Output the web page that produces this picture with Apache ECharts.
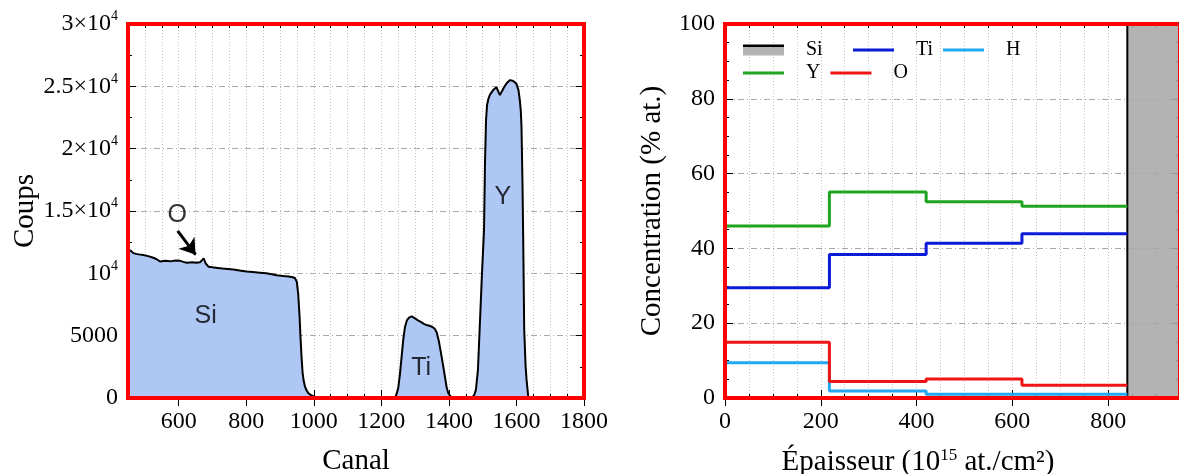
<!DOCTYPE html>
<html>
<head>
<meta charset="utf-8">
<script src="https://cdn.jsdelivr.net/npm/echarts@6/dist/echarts.min.js"></script>
<style>
  html, body { margin: 0; padding: 0; background: #fff; }
  #chart { width: 1179px; height: 474px; }
</style>
</head>
<body>
<div id="chart"></div>
<script>
  // spectre RBS (gauche)
  const canalRange = [450, 1800];
  const coupsMax = 30000;
  const canal = [
    450, 458, 466, 474, 482, 495, 510, 525, 535, 545,
    560, 575, 590, 604, 614, 624, 640, 652, 663, 668,
    674, 680, 688, 700, 715, 730, 745, 762, 780, 801,
    820, 840, 860, 875, 890, 910, 925, 935, 944, 950,
    954, 958, 961, 964, 967, 970, 974, 979, 984, 992,
    999, 1013, 1240, 1245, 1250, 1255, 1260, 1265, 1270, 1276,
    1282, 1290, 1296, 1302, 1310, 1318, 1326, 1334, 1342, 1350,
    1358, 1364, 1370, 1376, 1382, 1388, 1393, 1398, 1405, 1415,
    1468, 1475, 1480, 1486, 1491, 1498, 1504, 1507, 1510, 1513,
    1517, 1521, 1526, 1531, 1536, 1541, 1546, 1551, 1555, 1559,
    1565, 1571, 1576, 1581, 1588, 1594, 1600, 1606, 1610, 1613,
    1615, 1618, 1620, 1623, 1627, 1630, 1635, 1642, 1800
  ];
  const coups = [
    11900, 11820, 11620, 11560, 11520, 11470, 11380, 11250, 11130, 10950,
    11000, 10960, 11030, 11000, 10920, 10850, 10890, 10840, 10880, 10960,
    11200, 10800, 10530, 10480, 10430, 10380, 10350, 10310, 10220, 10140,
    10100, 10050, 10000, 9930, 9850, 9790, 9750, 9700, 9620, 9300,
    8300, 6500, 4700, 3200, 2000, 1400, 900, 600, 380, 230,
    150, 0, 0, 300, 800, 1900, 3300, 4700, 5700, 6250,
    6450, 6550, 6450, 6350, 6200, 6080, 5950, 5850, 5800, 5720,
    5550, 5250, 4600, 3700, 2750, 1750, 900, 400, 120, 0,
    0, 250, 650, 2250, 5500, 10000, 13500, 19000, 22300, 23500,
    24000, 24300, 24500, 24700, 24800, 24920, 24600, 24300, 24450, 24700,
    25000, 25250, 25400, 25500, 25450, 25350, 25200, 24700, 23900, 23000,
    21700, 17000, 12800, 5500, 2600, 1450, 100, 0, 0
  ];
  // étiquettes des pics (canal, coups)
  const peakNames = ['O', 'Si', 'Ti', 'Y'];
  const peakPos = [[596, 14680], [680, 6550], [1318, 2400], [1560, 16100]];
  const arrowFrom = [597, 13400];
  const arrowTo = [650, 11500];

  // profil de concentration (droite)
  const depthRange = [0, 950];
  const depthEdges = [0, 218, 420, 620, 840];
  const concY = [46.0, 55.1, 52.5, 51.3];
  const concTi = [29.5, 38.4, 41.4, 43.9];
  const concO = [14.9, 4.4, 5.1, 3.4];
  const concH = [9.4, 1.9, 1.0, 1.0];
  const substrate = [840, 950];

  const serif = 'Liberation Serif, Times New Roman, serif';
  const sans = 'Liberation Sans, Arial, sans-serif';

  const grids = [
    {left: 128, top: 24, width: 456, height: 374},
    {left: 725, top: 24, width: 455, height: 374}
  ];

  function stepData(vals) {
    const d = vals.map((v, i) => [depthEdges[i], v]);
    d.push([depthEdges[depthEdges.length - 1], vals[vals.length - 1]]);
    return d;
  }

  function xAxes(grid, range, majors, label, name, nameStyle) {
    const tick = {show: true, inside: true, length: 4, lineStyle: {color: '#000', width: 1}};
    const major = {show: true, inside: true, length: 8, customValues: majors, lineStyle: {color: '#000', width: 1}};
    const base = {type: 'value', gridIndex: grid, min: range[0], max: range[1], interval: 50,
      axisLine: {show: true, onZero: false, lineStyle: {color: '#000', width: 2}},
      splitLine: {show: false}, axisLabel: {show: false}};
    return [
      Object.assign({}, base, {
        position: 'bottom', axisTick: tick,
        splitLine: {show: true, lineStyle: {color: '#c4c4c4', type: [1, 2], width: 1}},
        axisLabel: {show: true, formatter: label, margin: 12, fontFamily: serif, fontSize: 24, color: '#000'},
        name: name, nameLocation: 'middle', nameGap: 49,
        nameTextStyle: Object.assign({fontFamily: serif, fontSize: 29, color: '#000'}, nameStyle || {})
      }),
      Object.assign({}, base, {position: 'top', axisTick: tick}),
      Object.assign({}, base, {position: 'bottom', axisLine: {show: false}, axisTick: major}),
      Object.assign({}, base, {position: 'top', axisLine: {show: false}, axisTick: major})
    ];
  }

  function yAxes(grid, max, step, minor, label, name, gap) {
    const base = {
      type: 'value', gridIndex: grid, min: 0, max: max, interval: step,
      axisLine: {show: true, onZero: false, lineStyle: {color: '#000', width: 2}},
      axisTick: {show: true, inside: true, length: 8, lineStyle: {color: '#000', width: 1}},
      minorTick: {show: true, splitNumber: minor, length: 4, lineStyle: {color: '#000', width: 1}},
      splitLine: {show: false}, axisLabel: {show: false}
    };
    return [
      Object.assign({}, base, {
        position: 'left',
        splitLine: {show: true, lineStyle: {color: '#a8a8a8', type: [6, 3, 1, 3], width: 1}},
        axisLabel: {
          show: true, formatter: label, margin: 10, fontFamily: serif, fontSize: 24, color: '#000',
          rich: {s: {fontFamily: serif, fontSize: 14, padding: [0, 0, 15, 0], color: '#000'}}
        },
        name: name, nameLocation: 'middle', nameGap: gap,
        nameTextStyle: {fontFamily: serif, fontSize: 29, color: '#000'}
      }),
      Object.assign({}, base, {position: 'right'})
    ];
  }

  const chart = echarts.init(document.getElementById('chart'));

  const siIcon = {
    type: 'linear', x: 0, y: 0, x2: 0, y2: 1,
    colorStops: [
      {offset: 0, color: '#000'}, {offset: 0.2, color: '#000'},
      {offset: 0.2, color: '#b3b3b3'}, {offset: 1, color: '#b3b3b3'}
    ]
  };
  const legendBase = {
    padding: 0, itemWidth: 41, itemGap: 10, selectedMode: false,
    textStyle: {fontFamily: serif, fontSize: 20, color: '#000', width: 34, padding: [0, 0, 0, 17]}
  };

  const option = {
    animation: false,
    grid: grids.map(g => Object.assign({outerBoundsMode: 'none'}, g)),
    graphic: grids.map(g => ({
      type: 'rect', silent: true, z: 100,
      shape: {x: g.left, y: g.top, width: g.width, height: g.height},
      style: {fill: 'none', stroke: '#ff0000', lineWidth: 4}
    })),
    legend: [
      Object.assign({}, legendBase, {left: 743, top: 40, itemHeight: 11,
        data: [{name: 'Si', icon: 'rect', itemStyle: {color: siIcon}}]}),
      Object.assign({}, legendBase, {left: 853, top: 40, itemHeight: 3, icon: 'rect', data: ['Ti', 'H']}),
      Object.assign({}, legendBase, {left: 743, top: 63, itemHeight: 3, icon: 'rect', data: ['Y', 'O']})
    ],
    xAxis: [].concat(
      xAxes(0, canalRange, [600, 800, 1000, 1200, 1400, 1600, 1800],
        v => (v % 200 === 0 && v >= 600) ? String(v) : '', 'Canal'),
      xAxes(1, depthRange, [0, 200, 400, 600, 800],
        v => (v % 200 === 0 && v <= 800) ? String(v) : '',
        'Épaisseur (10{s|15} at./cm²)',
        {padding: [0, 69, 0, 0], rich: {s: {fontFamily: serif, fontSize: 17, padding: [0, 0, 14, 0], color: '#000'}}})
    ),
    yAxis: [].concat(
      yAxes(0, coupsMax, 5000, 2, v => {
        if (v === 0) return '0';
        if (v === 5000) return '5000';
        if (v === 10000) return '10{s|4}';
        return (v / 10000) + '×10{s|4}';
      }, 'Coups', 86),
      yAxes(1, 100, 20, 4, v => String(v), 'Concentration (% at.)', 58)
    ),
    series: [
      {
        name: 'spectre', type: 'line', xAxisIndex: 0, yAxisIndex: 0,
        data: canal.map((c, i) => [c, coups[i]]),
        symbol: 'none', z: 3,
        lineStyle: {color: '#000', width: 2},
        areaStyle: {color: '#aec7f5', opacity: 1},
        markLine: {
          silent: true, symbol: ['none', 'arrow'], symbolSize: 15,
          lineStyle: {color: '#000', width: 3, type: 'solid'},
          label: {show: false},
          data: [[{coord: arrowFrom}, {coord: arrowTo}]]
        }
      },
      {
        name: 'pics', type: 'scatter', xAxisIndex: 0, yAxisIndex: 0,
        symbolSize: 0, z: 6,
        data: peakPos.map((p, i) => ({name: peakNames[i], value: p})),
        label: {show: true, position: 'inside', formatter: '{b}', fontFamily: sans, fontSize: 25, color: '#000'}
      },
      {
        name: 'Si', type: 'line', xAxisIndex: 4, yAxisIndex: 2,
        data: [[substrate[0], 0], [substrate[0], 100], [substrate[1], 100]],
        symbol: 'none', z: 2,
        lineStyle: {color: '#000', width: 2},
        areaStyle: {color: '#a9a9a9', opacity: 0.88},
        itemStyle: {color: '#b3b3b3'}
      },
      {name: 'Y', type: 'line', xAxisIndex: 4, yAxisIndex: 2, step: 'end', data: stepData(concY),
        symbol: 'none', z: 3, lineStyle: {color: '#1fa51f', width: 3}, itemStyle: {color: '#1fa51f'}},
      {name: 'Ti', type: 'line', xAxisIndex: 4, yAxisIndex: 2, step: 'end', data: stepData(concTi),
        symbol: 'none', z: 3, lineStyle: {color: '#0b1bd8', width: 3}, itemStyle: {color: '#0b1bd8'}},
      {name: 'H', type: 'line', xAxisIndex: 4, yAxisIndex: 2, step: 'end', data: stepData(concH),
        symbol: 'none', z: 3, lineStyle: {color: '#22a8ee', width: 3}, itemStyle: {color: '#22a8ee'}},
      {name: 'O', type: 'line', xAxisIndex: 4, yAxisIndex: 2, step: 'end', data: stepData(concO),
        symbol: 'none', z: 3, lineStyle: {color: '#f01414', width: 3}, itemStyle: {color: '#f01414'}}
    ]
  };

  chart.setOption(option);
</script>
</body>
</html>
